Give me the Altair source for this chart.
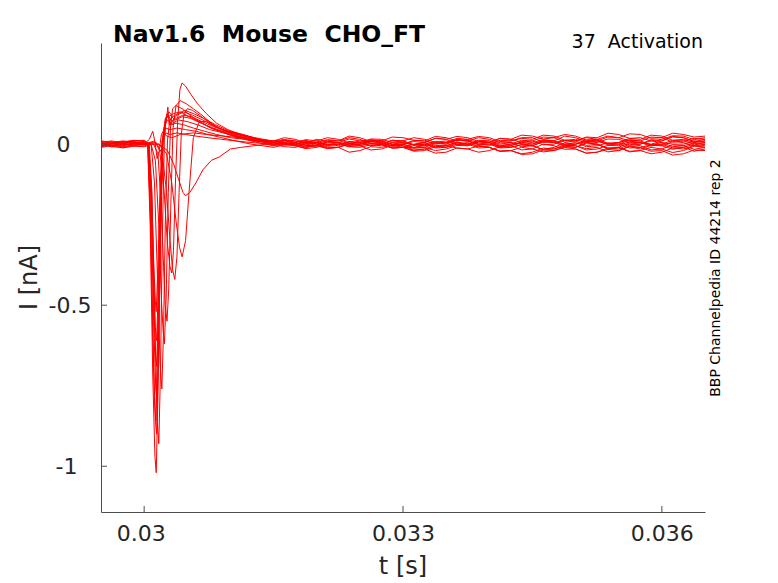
import altair as alt
import pandas as pd

# ---------------- data (times in ms, currents in nA) ----------------
X_TICKS = [0.030, 0.033, 0.036]
Y_TICKS = [0.0, -0.5, -1.0]

PRE_MS = [29.51, 29.62, 29.75, 29.88]
TAIL_MS = [31.5, 31.625, 31.75, 31.875, 32.0, 32.125, 32.25, 32.375, 32.5, 32.625,
           32.75, 32.875, 33.0, 33.125, 33.25, 33.375, 33.5, 33.625, 33.75, 33.875,
           34.0, 34.125, 34.25, 34.375, 34.5, 34.625, 34.75, 34.875, 35.0, 35.125,
           35.25, 35.375, 35.5, 35.625, 35.75, 35.875, 36.0, 36.125, 36.25, 36.375,
           36.5]

d1_pre = [0.005, -0.005, 0.0, 0.01]
d1_ms = [30.00, 30.04, 30.07, 30.10, 30.125, 30.14, 30.16, 30.185, 30.21, 30.24, 30.27, 30.31, 30.37, 30.45, 30.55, 30.67, 30.80, 30.95, 31.10, 31.26, 31.42]
d1_na = [0.010, 0.003, -0.25, -0.72, -0.97, -1.02, -0.78, -0.35, -0.02, 0.06, 0.075, 0.065, 0.08, 0.09, 0.085, 0.07, 0.055, 0.04, 0.03, 0.02, 0.01]
d1_tail = [0.005, 0.012, 0.0, -0.01, -0.005, 0.008, 0.005, 0.0, 0.01, 0.012,
           0.0, -0.012, -0.01, 0.0, 0.005, 0.018, 0.015, 0.0, 0.005, -0.008,
           -0.005, 0.012, 0.01, 0.02, 0.02, 0.005, 0.01, -0.002, 0.0, 0.01,
           0.015, 0.025, 0.02, 0.01, 0.005, 0.0, 0.01, 0.022, 0.02, 0.008, 0.015]

d2_pre = [0.0, 0.008, -0.004, 0.003]
d2_ms = [30.00, 30.045, 30.075, 30.105, 30.13, 30.145, 30.165, 30.19, 30.215, 30.245, 30.275, 30.32, 30.38, 30.46, 30.56, 30.68, 30.82, 30.96, 31.12, 31.28, 31.44]
d2_na = [0.005, 0.0, -0.22, -0.62, -0.86, -0.90, -0.66, -0.26, 0.0, 0.07, 0.09, 0.07, 0.09, 0.10, 0.09, 0.075, 0.055, 0.04, 0.03, 0.02, 0.012]
d2_tail = [0.01, 0.002, 0.005, 0.012, 0.0, -0.008, -0.01, 0.002, 0.0, 0.014,
           0.01, 0.0, 0.005, -0.002, -0.005, 0.006, 0.0, 0.015, 0.01, 0.02,
           0.015, 0.004, 0.005, 0.0, 0.0, 0.012, 0.01, 0.025, 0.02, 0.008,
           0.01, 0.0, 0.005, 0.018, 0.015, 0.028, 0.025, 0.012, 0.015, 0.005, 0.01]

d3_pre = [-0.006, 0.002, 0.008, 0.01]
d3_ms = [30.00, 30.04, 30.07, 30.10, 30.12, 30.135, 30.155, 30.18, 30.205, 30.23, 30.255, 30.275, 30.29, 30.33, 30.40, 30.50, 30.62, 30.76, 30.92, 31.08, 31.24, 31.40]
d3_na = [0.012, 0.004, -0.20, -0.60, -0.80, -0.86, -0.64, -0.25, 0.0, 0.05, 0.07, 0.115, 0.06, 0.065, 0.075, 0.07, 0.06, 0.045, 0.035, 0.025, 0.015, 0.008]
d3_tail = [0.0, 0.006, -0.005, -0.012, 0.005, 0.0, 0.0, -0.008, -0.01, -0.002,
           -0.005, 0.006, 0.005, -0.004, 0.0, -0.012, -0.01, 0.0, -0.005, 0.008,
           0.005, -0.006, 0.0, 0.002, -0.005, 0.008, 0.005, 0.012, 0.01, -0.004,
           0.0, -0.015, -0.01, 0.004, 0.0, 0.01, 0.005, -0.008, -0.005, 0.004, 0.0]

d4_pre = [0.004, -0.008, -0.01, -0.006]
d4_ms = [30.00, 30.05, 30.08, 30.11, 30.135, 30.15, 30.17, 30.195, 30.22, 30.25, 30.27, 30.31, 30.37, 30.46, 30.57, 30.70, 30.84, 31.00, 31.16, 31.32]
d4_na = [-0.005, -0.002, -0.18, -0.55, -0.76, -0.80, -0.58, -0.22, 0.01, 0.08, 0.095, 0.06, 0.065, 0.06, 0.05, 0.04, 0.03, 0.02, 0.015, 0.005]
d4_tail = [-0.005, 0.004, 0.0, 0.008, 0.01, -0.002, 0.005, -0.008, -0.005, -0.018,
           -0.015, -0.004, -0.01, -0.012, 0.0, -0.01, -0.005, -0.012, -0.015, -0.025,
           -0.02, -0.008, -0.01, -0.002, -0.005, -0.018, -0.015, -0.006, -0.01, 0.004,
           0.0, -0.015, -0.01, -0.024, -0.02, -0.01, -0.015, -0.002, -0.005, -0.016, -0.01]

d5_pre = [0.01, 0.004, 0.006, 0.012]
d5_ms = [30.00, 30.05, 30.08, 30.11, 30.13, 30.145, 30.165, 30.19, 30.215, 30.245, 30.28, 30.34, 30.42, 30.52, 30.64, 30.78, 30.94, 31.10, 31.28]
d5_na = [0.008, 0.0, -0.16, -0.48, -0.65, -0.69, -0.50, -0.18, 0.02, 0.08, 0.085, 0.095, 0.10, 0.085, 0.07, 0.05, 0.035, 0.02, 0.01]
d5_tail = [0.01, 0.02, 0.015, 0.004, 0.005, 0.014, 0.01, 0.025, 0.02, 0.008,
           0.01, -0.002, 0.0, 0.012, 0.01, 0.024, 0.02, 0.01, 0.015, 0.004,
           0.005, 0.018, 0.015, 0.028, 0.025, 0.016, 0.02, 0.006, 0.01, 0.022,
           0.02, 0.034, 0.03, 0.018, 0.02, 0.01, 0.015, 0.026, 0.025, 0.014, 0.02]

d6_pre = [-0.01, -0.004, -0.012, -0.006]
d6_ms = [30.00, 30.05, 30.085, 30.11, 30.13, 30.145, 30.165, 30.19, 30.215, 30.25, 30.30, 30.38, 30.48, 30.60, 30.74, 30.90, 31.06, 31.24]
d6_na = [-0.008, -0.004, -0.15, -0.42, -0.57, -0.61, -0.44, -0.15, 0.01, 0.05, 0.045, 0.05, 0.045, 0.04, 0.03, 0.02, 0.01, 0.0]
d6_tail = [-0.01, -0.002, -0.005, 0.004, 0.0, -0.012, -0.01, -0.025, -0.02, -0.008,
           -0.01, -0.002, -0.005, -0.018, -0.015, -0.028, -0.025, -0.012, -0.015, -0.006,
           -0.01, -0.022, -0.02, -0.032, -0.03, -0.018, -0.02, -0.01, -0.015, -0.028,
           -0.025, -0.016, -0.02, -0.006, -0.01, -0.022, -0.02, -0.034, -0.03, -0.018, -0.02]

d7_pre = [0.002, 0.006, -0.002, 0.0]
d7_ms = [30.00, 30.05, 30.085, 30.11, 30.13, 30.14, 30.16, 30.185, 30.21, 30.25, 30.30, 30.38, 30.48, 30.60, 30.74, 30.90, 31.06, 31.24]
d7_na = [0.004, 0.0, -0.13, -0.36, -0.49, -0.52, -0.38, -0.13, 0.01, 0.035, 0.03, 0.035, 0.03, 0.025, 0.02, 0.015, 0.01, 0.005]
d7_tail = [0.0, 0.01, 0.005, -0.004, -0.005, -0.014, -0.01, 0.002, 0.0, 0.01,
           0.005, -0.006, -0.005, -0.012, -0.01, 0.002, 0.0, 0.012, 0.01, 0.0,
           0.0, -0.012, -0.01, -0.002, -0.005, 0.008, 0.005, -0.004, -0.005, -0.018,
           -0.015, -0.004, -0.005, 0.008, 0.005, -0.002, 0.0, -0.012, -0.01, 0.0, -0.005]

m1_pre = [-0.004, 0.0, 0.005, 0.002]
m1_ms = [30.00, 30.06, 30.09, 30.12, 30.15, 30.17, 30.19, 30.21, 30.235, 30.26, 30.29, 30.33, 30.39, 30.47, 30.57, 30.69, 30.83, 30.99, 31.15, 31.32]
m1_na = [0.0, 0.0, -0.15, -0.50, -0.85, -0.93, -0.70, -0.30, 0.02, 0.09, 0.10, 0.085, 0.095, 0.105, 0.095, 0.08, 0.06, 0.04, 0.03, 0.015]
m1_tail = [0.005, 0.012, 0.01, 0.004, 0.015, 0.008, 0.005, -0.004, 0.0, 0.006,
           0.01, 0.022, 0.02, 0.012, 0.01, 0.0, 0.005, 0.018, 0.015, 0.024,
           0.02, 0.008, 0.01, 0.018, 0.015, 0.028, 0.025, 0.012, 0.015, 0.004,
           0.01, 0.022, 0.02, 0.032, 0.03, 0.018, 0.02, 0.006, 0.01, 0.018, 0.015]

m2_pre = [0.008, 0.002, -0.006, 0.004]
m2_ms = [30.00, 30.08, 30.12, 30.155, 30.185, 30.205, 30.225, 30.245, 30.27, 30.295, 30.32, 30.36, 30.44, 30.54, 30.66, 30.80, 30.96, 31.12, 31.30]
m2_na = [0.006, 0.002, -0.12, -0.42, -0.68, -0.76, -0.58, -0.25, 0.01, 0.07, 0.085, 0.075, 0.085, 0.08, 0.065, 0.05, 0.035, 0.02, 0.01]
m2_tail = [0.0, -0.008, -0.01, 0.0, -0.005, 0.008, 0.005, 0.016, 0.01, 0.002,
           0.0, -0.012, -0.01, -0.022, -0.02, -0.008, -0.01, 0.004, 0.0, -0.004,
           -0.01, -0.022, -0.02, -0.01, -0.015, 0.0, -0.005, -0.016, -0.015, -0.028,
           -0.025, -0.012, -0.015, 0.0, -0.005, -0.018, -0.015, -0.026, -0.02, -0.006, -0.01]

m3_pre = [0.004, -0.004, 0.002, 0.006]
m3_ms = [30.00, 30.08, 30.13, 30.17, 30.20, 30.22, 30.235, 30.255, 30.28, 30.305, 30.33, 30.37, 30.44, 30.53, 30.64, 30.77, 30.92, 31.08, 31.25, 31.42]
m3_na = [0.005, 0.0, -0.05, -0.25, -0.48, -0.58, -0.62, -0.48, -0.15, 0.05, 0.11, 0.12, 0.11, 0.09, 0.07, 0.05, 0.035, 0.02, 0.012, 0.005]
m3_tail = [-0.005, 0.004, 0.0, -0.008, -0.005, 0.006, 0.005, -0.004, 0.0, 0.012,
           0.01, 0.0, 0.0, -0.01, -0.005, 0.004, 0.005, 0.012, 0.01, 0.0,
           0.005, -0.008, -0.005, 0.006, 0.0, 0.01, 0.005, -0.006, 0.0, 0.008,
           0.005, 0.016, 0.015, 0.004, 0.005, -0.006, 0.0, 0.012, 0.01, 0.002, 0.005]

s0_pre = [-0.002, -0.008, 0.0, -0.004]
s0_ms = [30.00, 30.10, 30.16, 30.20, 30.225, 30.245, 30.265, 30.285, 30.31, 30.335, 30.37, 30.42, 30.49, 30.57, 30.67, 30.80, 30.94, 31.10, 31.27]
s0_na = [0.0, 0.005, -0.03, -0.20, -0.38, -0.50, -0.55, -0.45, -0.18, 0.05, 0.12, 0.135, 0.125, 0.11, 0.09, 0.06, 0.04, 0.025, 0.015]
s0_tail = [0.01, 0.002, 0.005, 0.014, 0.01, 0.02, 0.015, 0.004, 0.005, -0.004,
           0.0, 0.012, 0.01, 0.02, 0.015, 0.006, 0.01, -0.002, 0.0, 0.01,
           0.005, 0.018, 0.015, 0.006, 0.01, -0.002, 0.0, 0.012, 0.01, 0.02,
           0.015, 0.002, 0.005, -0.004, 0.0, 0.014, 0.01, 0.024, 0.02, 0.008, 0.01]

s1_pre = [0.006, 0.01, 0.004, 0.008]
s1_ms = [30.00, 30.12, 30.18, 30.23, 30.27, 30.30, 30.32, 30.34, 30.365, 30.39, 30.415, 30.44, 30.48, 30.54, 30.62, 30.72, 30.84, 30.97, 31.12, 31.27, 31.42]
s1_na = [0.0, 0.01, -0.02, -0.14, -0.31, -0.38, -0.40, -0.33, -0.10, 0.08, 0.17, 0.19, 0.18, 0.155, 0.125, 0.095, 0.065, 0.045, 0.03, 0.02, 0.01]
s1_tail = [0.005, -0.002, 0.0, 0.008, 0.005, -0.004, 0.0, 0.004, -0.005, 0.002,
           0.0, 0.012, 0.01, -0.002, 0.005, -0.008, -0.005, 0.006, 0.0, 0.012,
           0.01, 0.0, 0.005, -0.008, -0.005, -0.016, -0.01, 0.004, 0.0, 0.014,
           0.01, -0.002, 0.0, -0.012, -0.01, -0.002, -0.005, 0.008, 0.005, -0.006, 0.0]

s2_pre = [-0.008, 0.0, 0.006, 0.002]
s2_ms = [30.00, 30.14, 30.21, 30.26, 30.30, 30.33, 30.355, 30.38, 30.405, 30.43, 30.46, 30.50, 30.56, 30.64, 30.74, 30.87, 31.02, 31.17, 31.32]
s2_na = [0.0, 0.005, -0.03, -0.15, -0.30, -0.39, -0.42, -0.35, -0.15, 0.03, 0.09, 0.11, 0.105, 0.09, 0.07, 0.05, 0.035, 0.025, 0.015]
s2_tail = [0.01, 0.014, 0.005, -0.004, -0.005, -0.012, -0.01, 0.0, -0.005, 0.008,
           0.005, -0.006, 0.0, -0.012, -0.01, -0.02, -0.015, -0.004, -0.005, 0.008,
           0.005, -0.008, -0.005, -0.018, -0.015, -0.024, -0.02, -0.008, -0.01, 0.004,
           0.0, -0.012, -0.01, -0.022, -0.02, -0.03, -0.025, -0.012, -0.015, -0.004, -0.01]

s3_pre = [0.003, -0.003, -0.008, -0.002]
s3_ms = [30.00, 30.17, 30.26, 30.32, 30.37, 30.41, 30.44, 30.48, 30.52, 30.57, 30.64, 30.72, 30.82, 30.94, 31.07, 31.22, 31.37]
s3_na = [0.0, 0.0, -0.03, -0.12, -0.24, -0.32, -0.35, -0.30, -0.15, 0.02, 0.07, 0.07, 0.055, 0.04, 0.03, 0.02, 0.01]
s3_tail = [0.005, -0.002, 0.0, 0.006, 0.0, 0.012, 0.01, 0.02, 0.015, 0.002,
           0.005, -0.006, 0.0, 0.008, 0.005, 0.018, 0.015, 0.024, 0.02, 0.008,
           0.01, -0.004, 0.0, 0.012, 0.01, 0.022, 0.02, 0.03, 0.025, 0.012,
           0.015, 0.002, 0.005, 0.014, 0.01, 0.022, 0.02, 0.034, 0.03, 0.022, 0.025]

s4_pre = [-0.005, 0.004, 0.002, -0.003]
s4_ms = [30.00, 30.17, 30.27, 30.34, 30.40, 30.45, 30.48, 30.53, 30.60, 30.68, 30.78, 30.87, 31.00, 31.12, 31.27, 31.42]
s4_na = [0.0, 0.0, -0.02, -0.06, -0.11, -0.15, -0.16, -0.15, -0.12, -0.08, -0.05, -0.04, -0.015, -0.01, -0.005, 0.0]
s4_tail = [0.0, 0.006, -0.005, -0.014, -0.01, 0.0, -0.005, 0.008, 0.005, -0.006,
           0.0, -0.012, -0.01, -0.02, -0.015, -0.004, -0.005, 0.006, 0.0, -0.012,
           -0.01, -0.022, -0.02, -0.03, -0.025, -0.012, -0.015, -0.002, -0.005, -0.014,
           -0.01, -0.024, -0.02, -0.008, -0.015, -0.004, -0.005, -0.016, -0.01, -0.022, -0.015]

b1_pre = [0.0, 0.005, 0.01, 0.006]
b1_ms = [30.00, 30.06, 30.10, 30.13, 30.15, 30.175, 30.20, 30.22, 30.26, 30.32, 30.42, 30.57, 30.72, 30.92, 31.12, 31.32]
b1_na = [0.0, 0.015, 0.04, 0.0, -0.045, -0.02, 0.03, 0.04, 0.025, 0.02, 0.03, 0.035, 0.03, 0.025, 0.02, 0.01]
b1_tail = [0.005, 0.014, 0.01, 0.002, 0.005, -0.004, 0.0, 0.008, 0.005, 0.016,
           0.015, 0.006, 0.01, -0.002, 0.0, 0.008, 0.005, 0.014, 0.01, -0.002,
           0.0, -0.01, -0.005, 0.008, 0.005, 0.014, 0.01, 0.0, 0.005, -0.008,
           -0.005, 0.004, 0.0, 0.012, 0.01, -0.002, 0.005, 0.0, 0.0, 0.01, 0.005]

TRACES = {
    "d1": (d1_pre, d1_ms, d1_na, d1_tail),
    "d2": (d2_pre, d2_ms, d2_na, d2_tail),
    "d3": (d3_pre, d3_ms, d3_na, d3_tail),
    "d4": (d4_pre, d4_ms, d4_na, d4_tail),
    "d5": (d5_pre, d5_ms, d5_na, d5_tail),
    "d6": (d6_pre, d6_ms, d6_na, d6_tail),
    "d7": (d7_pre, d7_ms, d7_na, d7_tail),
    "m1": (m1_pre, m1_ms, m1_na, m1_tail),
    "m2": (m2_pre, m2_ms, m2_na, m2_tail),
    "m3": (m3_pre, m3_ms, m3_na, m3_tail),
    "s0": (s0_pre, s0_ms, s0_na, s0_tail),
    "s1": (s1_pre, s1_ms, s1_na, s1_tail),
    "s2": (s2_pre, s2_ms, s2_na, s2_tail),
    "s3": (s3_pre, s3_ms, s3_na, s3_tail),
    "s4": (s4_pre, s4_ms, s4_na, s4_tail),
    "b1": (b1_pre, b1_ms, b1_na, b1_tail),
}

rows = []
for name, (pre, ms, na, tail) in TRACES.items():
    all_ms = PRE_MS + ms + TAIL_MS
    all_na = pre + na + tail
    for m, v in zip(all_ms, all_na):
        rows.append({"trace": name, "t": m / 1000.0, "I": v})
df = pd.DataFrame(rows)

W, H = 604, 469
FONT = "DejaVu Sans"
NB = "\u00a0"
ZW = "\u200b"  # zero-width char keeps trailing padding from being trimmed

x_scale = alt.Scale(domain=[0.0295, 0.0365], nice=False, zero=False)
y_scale = alt.Scale(domain=[-1.142, 0.314], nice=False, zero=False)

x_label_expr = ("datum.value < 0.0301 ? '0.03" + NB + ZW + "' : datum.value < 0.0331 ? '0.033' : '0.036'")
y_label_expr = ("datum.value > -0.1 ? '0" + NB * 3 + ZW + "' : datum.value > -0.7 ? '-0.5' : '-1"
                + NB * 2 + ZW + "'")

lines = alt.Chart(df).mark_line(color="#ff0000", strokeWidth=1, clip=True).encode(
    x=alt.X("t:Q", scale=x_scale,
            axis=alt.Axis(values=X_TICKS, ticks=False, grid=False, title=None,
                          labelExpr=x_label_expr, labelFont=FONT, labelFontSize=22,
                          labelColor="#262626", labelPadding=11, domainColor="#4d4d4d",
                          labelFlush=False, labelOverlap=False)),
    y=alt.Y("I:Q", scale=y_scale,
            axis=alt.Axis(values=Y_TICKS, ticks=False, grid=False, title=None,
                          labelExpr=y_label_expr, labelFont=FONT, labelFontSize=22,
                          labelColor="#262626", labelPadding=10, domainColor="#4d4d4d",
                          labelFlush=False, labelOverlap=False)),
    detail="trace:N",
)

xt = alt.Chart(pd.DataFrame({"t": X_TICKS})).mark_rule(color="#4d4d4d", strokeWidth=1).encode(
    x=alt.X("t:Q", scale=x_scale), y=alt.value(H), y2=alt.value(H - 6))
yt = alt.Chart(pd.DataFrame({"I": Y_TICKS})).mark_rule(color="#4d4d4d", strokeWidth=1).encode(
    y=alt.Y("I:Q", scale=y_scale), x=alt.value(0), x2=alt.value(6))

one = pd.DataFrame({"a": [0]})


def txt(text, x, y, size, align="center", angle=0, weight="normal", color="#262626"):
    kw = dict(text=text, font=FONT, fontSize=size, align=align, baseline="alphabetic",
              fontWeight=weight, color=color)
    if angle:
        kw["angle"] = angle
    return alt.Chart(one).mark_text(**kw).encode(x=alt.value(x), y=alt.value(y))


title = txt("Nav1.6 " + NB + "Mouse " + NB + "CHO_FT", 12, -1, 23.5, align="left", weight="bold", color="#000000")
sub = txt("37 " + NB + "Activation", 602, 5, 19, align="right", color="#000000")
xlab = txt("t [s]", 302, 531, 24)
ylab = txt("I [nA]", -64, 234.5, 24, angle=270)
side = txt("BBP Channelpedia ID 44214 rep 2", 619, 235, 14, angle=270, color="#000000")

chart = alt.layer(lines, xt, yt, title, sub, xlab, ylab, side).properties(
    width=W, height=H,
    autosize=alt.AutoSizeParams(type="none"),
    padding={"left": 93, "top": 35, "right": 30, "bottom": 70},
).configure_view(strokeOpacity=0)

chart.save("out.html", embed_options={"renderer": "svg", "actions": False})
